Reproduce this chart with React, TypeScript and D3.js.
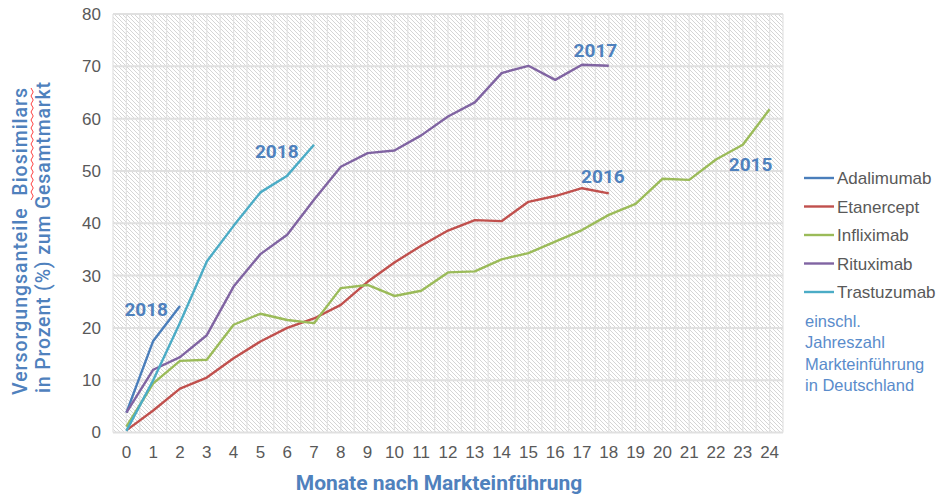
import React from "react";
import * as d3 from "d3";

// Monate nach Markteinführung (0..24)
const months = d3.range(0, 25);
const yTicks = [0, 10, 20, 30, 40, 50, 60, 70, 80];

const adalimumab = [3.8, 17.5, 24.2];
const etanercept = [0.4, 4.2, 8.4, 10.5, 14.2, 17.4, 20, 21.8, 24.4, 28.8, 32.5, 35.7, 38.6, 40.6, 40.4, 44.1, 45.2, 46.7, 45.7];
const infliximab = [1.1, 9.4, 13.7, 13.9, 20.6, 22.7, 21.5, 20.9, 27.6, 28.2, 26.1, 27.1, 30.6, 30.8, 33.1, 34.3, 36.5, 38.7, 41.6, 43.7, 48.5, 48.3, 52.2, 55, 61.8];
const rituximab = [3.8, 12, 14.4, 18.6, 27.9, 34.1, 37.8, 44.5, 50.8, 53.4, 53.9, 56.8, 60.4, 63.1, 68.7, 70.1, 67.4, 70.3, 70.1];
const trastuzumab = [0.3, 10, 21, 32.7, 39.5, 45.9, 49.1, 55];

const seriesNames = ["Adalimumab", "Etanercept", "Infliximab", "Rituximab", "Trastuzumab"];
const seriesColors = ["#4a7ebb", "#c0504d", "#9bbb59", "#8064a2", "#4bacc6"];
const seriesValues = [adalimumab, etanercept, infliximab, rituximab, trastuzumab];

// Jahr der Markteinführung, an Monat / Wert verankert
const yearLabels = [
  { text: "2018", month: 0.74, value: 22.3 },
  { text: "2018", month: 5.61, value: 52.4 },
  { text: "2017", month: 17.5, value: 71.85 },
  { text: "2016", month: 17.78, value: 47.76 },
  { text: "2015", month: 23.29, value: 49.9 },
];

const noteLines = ["einschl.", "Jahreszahl", "Markteinführung", "in Deutschland"];

const W = 941;
const H = 495;
const left = 113;
const right = 783;
const top = 14;
const bottom = 432.5;

export default function App() {
  const x = d3.scalePoint<number>().domain(months).range([left, right]).padding(0.5);
  const y = d3.scaleLinear().domain([0, 80]).range([bottom, top]);
  const step = x.step();

  const line = d3
    .line<number>()
    .x((d, i) => x(i) as number)
    .y((d) => y(d));

  const vLines: number[] = [];
  months.forEach((m) => {
    vLines.push((x(m) as number) - step / 2);
    vLines.push(x(m) as number);
  });
  vLines.push(right);

  const blue = "#4f81bd";
  const gray = "#595959";

  return (
    <svg
      width={W}
      height={H}
      style={{ position: "absolute", left: 0, top: 0, background: "#fff" }}
    >
      <defs>
        <pattern id="hatch" patternUnits="userSpaceOnUse" width={4} height={4}>
          <path d="M-1,-1 L5,5 M3,-1 L5,1 M-1,3 L1,5" stroke="#d0d0d0" strokeWidth={0.9} />
        </pattern>
      </defs>

      <rect x={left} y={top} width={right - left} height={bottom - top} fill="url(#hatch)" />

      {vLines.map((vx, i) => (
        <line key={"v" + i} x1={vx} x2={vx} y1={top} y2={bottom} stroke="#e2e2e2" strokeWidth={1.2} />
      ))}
      {yTicks.map((t) => (
        <line key={"h" + t} x1={left} x2={right} y1={y(t)} y2={y(t)} stroke="#e0e0e0" strokeWidth={2} />
      ))}

      {yTicks.map((t) => (
        <text
          key={"yt" + t}
          x={101}
          y={y(t)}
          dy="0.35em"
          textAnchor="end"
          fontFamily="Liberation Sans, Arial, sans-serif"
          fontSize={17}
          fill={gray}
        >
          {t}
        </text>
      ))}
      {months.map((m) => (
        <text
          key={"xt" + m}
          x={x(m) as number}
          y={458}
          textAnchor="middle"
          fontFamily="Liberation Sans, Arial, sans-serif"
          fontSize={17}
          fill={gray}
        >
          {m}
        </text>
      ))}

      {seriesValues.map((vals, i) => (
        <path
          key={seriesNames[i]}
          d={line(vals) || ""}
          fill="none"
          stroke={seriesColors[i]}
          strokeWidth={2.4}
          strokeLinejoin="round"
        />
      ))}

      {yearLabels.map((l, i) => (
        <text
          key={"yl" + i}
          x={x(0)! + l.month * step}
          y={y(l.value)}
          textAnchor="middle"
          fontFamily="Roboto, sans-serif"
          fontWeight="bold"
          fontSize={19}
          fill={blue}
        >
          {l.text}
        </text>
      ))}

      {/* Legende */}
      {seriesNames.map((name, i) => {
        const ly = 178 + i * 28.5;
        return (
          <g key={"lg" + name}>
            <line x1={804} x2={834} y1={ly} y2={ly} stroke={seriesColors[i]} strokeWidth={2.4} />
            <text
              x={837}
              y={ly + 6}
              fontFamily="Liberation Sans, Arial, sans-serif"
              fontSize={17}
              fill={gray}
            >
              {name}
            </text>
          </g>
        );
      })}
      {noteLines.map((t, i) => (
        <text
          key={"n" + i}
          x={805}
          y={327 + i * 21.3}
          fontFamily="Liberation Sans, Arial, sans-serif"
          fontSize={16.5}
          fill="#5a8ccb"
        >
          {t}
        </text>
      ))}

      {/* Achsentitel */}
      <g transform="translate(27,0) rotate(-90)">
        <text
          x={-241.5}
          y={0}
          textAnchor="middle"
          textLength={307}
          lengthAdjust="spacing"
          fontFamily="Roboto, sans-serif"
          fontWeight={500}
          fontSize={19.5}
          fill={blue}
          style={{ whiteSpace: "pre" }}
        >
          {"Versorgungsanteile  Biosimilars"}
        </text>
        <path
          d={d3.range(0, 29).map((k) => `${k === 0 ? "M" : "L"}${-200 + k * 4},${4 + (k % 2) * 2.2}`).join(" ")}
          fill="none"
          stroke="#ff4040"
          strokeWidth={1}
        />
        <text
          x={-237.5}
          y={23}
          textAnchor="middle"
          textLength={311}
          lengthAdjust="spacing"
          fontFamily="Roboto, sans-serif"
          fontWeight={500}
          fontSize={19.5}
          fill={blue}
        >
          in Prozent (%) zum Gesamtmarkt
        </text>
      </g>
      <text
        x={439}
        y={490}
        textAnchor="middle"
        fontFamily="Roboto, sans-serif"
        fontWeight="bold"
        fontSize={21}
        fill={blue}
      >
        Monate nach Markteinführung
      </text>
    </svg>
  );
}
